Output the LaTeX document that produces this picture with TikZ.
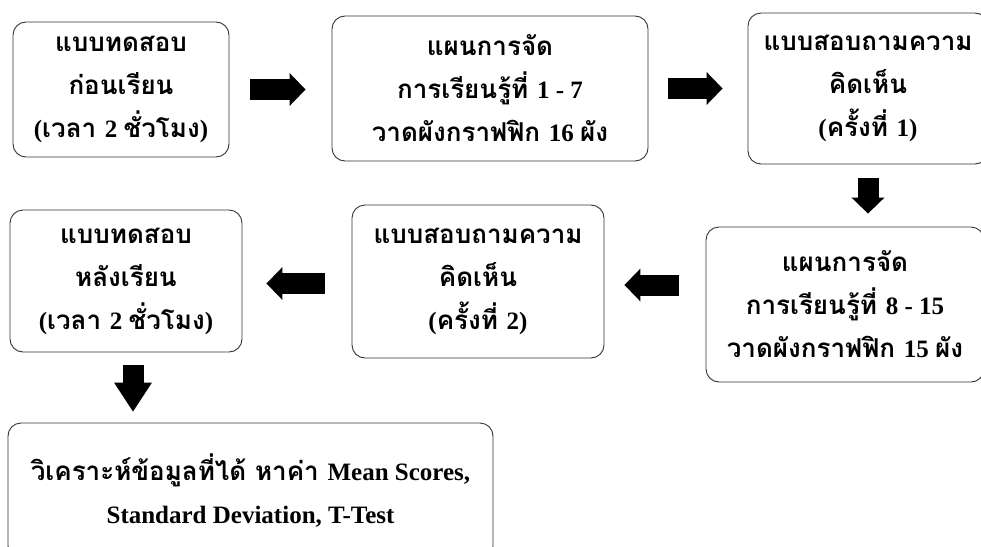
\documentclass[tikz,border=0pt]{standalone}
\usepackage{fontspec}
\setmainfont{Liberation Serif}
\newfontfamily\thai[Script=Thai,Scale=1.04]{Loma}
\usetikzlibrary{arrows.meta,calc}
\begin{document}
\begin{tikzpicture}[x=1pt,y=-1pt]
\tikzset{
  box/.style={draw=black!80, line width=0.9pt, rounded corners=13pt, align=center, inner sep=0pt,
    font=\fontsize{25}{43}\selectfont\bfseries},
  fat/.style={line width=21pt, -{Triangle[width=33pt 0 0,length=16pt 0 0,line width=0pt]}},
  fatbig/.style={line width=21pt, -{Triangle[width=38pt 0 0,length=29pt 0 0,line width=0pt]}},
}
\fill[white] (0,0) rectangle (981,546);
\useasboundingbox (0,0) rectangle (981,546);

\node[box, minimum width=216pt, minimum height=135pt] (b1) at (121,89.5)
  {\thai แบบทดสอบ\\ \thai ก่อนเรียน\\ (\thai เวลา \rmfamily 2 \thai ชั่วโมง\rmfamily )};
\node[box, minimum width=316pt, minimum height=145pt] (b2) at (490,88.5)
  {\thai แผนการจัด\\ \thai การเรียนรู้ที่ \rmfamily 1 - 7\\ \thai วาดผังกราฟฟิก \rmfamily 16 \thai ผัง};
\node[box, minimum width=240pt, minimum height=151pt] (b3) at (868,88.5)
  {\thai แบบสอบถามความ\\ \thai คิดเห็น\\ (\thai ครั้งที่ \rmfamily 1)};
\node[box, minimum width=278pt, minimum height=155pt] (b4) at (845,304.5)
  {\thai แผนการจัด\\ \thai การเรียนรู้ที่ \rmfamily 8 - 15\\ \thai วาดผังกราฟฟิก \rmfamily 15 \thai ผัง};
\node[box, minimum width=252pt, minimum height=153pt] (b5) at (478,281.5)
  {\thai แบบสอบถามความ\\ \thai คิดเห็น\\ (\thai ครั้งที่ \rmfamily 2)};
\node[box, minimum width=232pt, minimum height=142pt] (b6) at (126,281)
  {\thai แบบทดสอบ\\ \thai หลังเรียน\\ (\thai เวลา \rmfamily 2 \thai ชั่วโมง\rmfamily )};
\node[box, minimum width=485pt, minimum height=136pt] (b7) at (250.5,491)
  {\thai วิเคราะห์ข้อมูลที่ได้ หาค่า \rmfamily Mean Scores,\\ Standard Deviation, T-Test};

\coordinate (p3) at ([yshift=19.5pt]b4.west);
\coordinate (p4) at ([yshift=-2pt]b5.west);
\coordinate (p6) at ([xshift=7pt]b6.south);

\draw[fat, shorten <=21pt, shorten >=26pt] (b1.east) -- (b1.east -| b2.west);
\draw[fat, shorten <=20pt, shorten >=25pt] (b2.east) -- (b2.east -| b3.west);
\draw[fat, shorten <=14pt, shorten >=13pt] (b3.south) -- (b3.south |- b4.north);
\draw[fat, shorten <=27pt, shorten >=20pt] (p3) -- (p3 -| b5.east);
\draw[fat, shorten <=27pt, shorten >=24pt] (p4) -- (p4 -| b6.east);
\draw[fatbig, shorten <=13pt, shorten >=11pt] (p6) -- (p6 |- b7.north);
\end{tikzpicture}
\end{document}
